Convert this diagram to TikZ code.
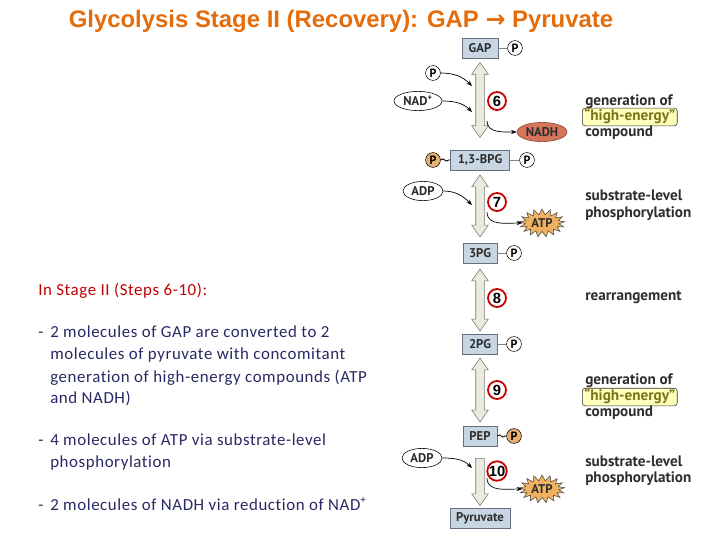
\documentclass[tikz,border=0pt]{standalone}
\usepackage{fontspec}
\setmainfont[LetterSpace=3.5, Ligatures=NoCommon]{Carlito}
\newfontfamily\headfont{Liberation Sans}
\newfontfamily\figfont{PT Sans}
\newfontfamily\arrowfont{DejaVu Sans}
\usepackage{xcolor}
\usepackage{tikz}
\usetikzlibrary{positioning,shapes.geometric,shapes.arrows,shapes.symbols,arrows.meta,decorations.pathmorphing}
\definecolor{titleorange}{RGB}{228,108,10}
\definecolor{headred}{RGB}{192,0,0}
\definecolor{bodyblue}{RGB}{40,40,100}
\definecolor{boxfill}{RGB}{200,214,228}
\definecolor{boxline}{RGB}{100,112,128}
\definecolor{shaftfill}{RGB}{236,234,222}
\definecolor{shaftline}{RGB}{120,120,120}
\definecolor{pfill}{RGB}{232,176,112}
\definecolor{nadhfill}{RGB}{214,116,92}
\definecolor{atpfill}{RGB}{240,178,96}
\definecolor{hifill}{RGB}{255,255,190}
\definecolor{hitext}{RGB}{120,118,20}
\definecolor{labgray}{RGB}{45,45,45}
\tikzset{
  mol/.style={draw=boxline, fill=boxfill, minimum height=0.5cm, inner sep=1pt, font=\figfont\bfseries\fontsize{9}{10}\selectfont, text=labgray},
  phos/.style={circle, draw, fill=white, minimum size=0.37cm, inner sep=0pt, font=\figfont\bfseries\fontsize{8.5}{9}\selectfont},
  phoshi/.style={phos, fill=pfill},
  link/.style={draw=gray, line width=0.6pt},
  squig/.style={draw=black, line width=0.6pt, decorate, decoration={snake, amplitude=0.8pt, segment length=5pt}},
  twoway/.style={double arrow, draw=shaftline, fill=shaftfill, rotate=90, inner xsep=0pt, inner ysep=0.1cm, double arrow head extend=0.1cm, double arrow tip angle=70},
  oneway/.style={single arrow, draw=shaftline, fill=shaftfill, rotate=-90, inner xsep=0pt, inner ysep=0.1cm, single arrow head extend=0.1cm, single arrow tip angle=70},
  stepnum/.style={circle, draw=red!80!black, line width=1.3pt, fill=white, minimum size=0.45cm, inner sep=0pt, font=\headfont\bfseries\fontsize{10.5}{10}\selectfont},
  cofac/.style={ellipse, draw, fill=white, inner sep=0.5pt, minimum height=0.48cm, font=\figfont\bfseries\fontsize{9}{10}\selectfont, text=labgray},
  nadh/.style={cofac, fill=nadhfill, draw=nadhfill!60!black},
  burst/.style={starburst, starburst points=17, starburst point height=4pt, random starburst=0, draw=black!70, fill=atpfill, inner sep=1pt, minimum width=1.05cm, minimum height=0.7cm, font=\figfont\bfseries\fontsize{9}{10}\selectfont, text=labgray},
  feed/.style={-{Stealth[length=4pt]}, line width=0.5pt},
  side/.style={anchor=west, inner sep=0pt, text height=7.5pt, text depth=2pt, font=\figfont\bfseries\fontsize{10.8}{12}\selectfont, text=labgray},
  hiyel/.style={side, draw=black!80, fill=hifill, rounded corners=2pt, text=hitext, inner sep=1.5pt},
  body/.style={anchor=base west, inner sep=0pt, text=bodyblue, font=\fontsize{12}{14}\selectfont}
}
\begin{document}
\begin{tikzpicture}[x=0.025cm, y=0.025cm]
\useasboundingbox (0,0) rectangle (720,-540);
\node[font=\headfont\bfseries\fontsize{17}{20}\selectfont, text=titleorange, anchor=base] (title) at (341,-27) {Glycolysis Stage II (Recovery): GAP {\arrowfont →} Pyruvate};

\node[body, text=headred] (head) at (38,-295) {In Stage II (Steps 6-10):};
\foreach \y [count=\i] in {337,445,510}
  \node[body] (dash\i) at (38,-\y) {-};
\foreach \y/\t [count=\i] in {337/2 molecules of GAP are converted to 2, 359/molecules of pyruvate with concomitant, 382/generation of high-energy compounds (ATP, 403/and NADH), 445/4 molecules of ATP via substrate-level, 467/phosphorylation, 510/2 molecules of NADH via reduction of NAD\textsuperscript{+}}
  \node[body] (line\i) at (50,-\y) {\t};

\node[mol, minimum width=0.9cm] (gap) at (480,-48) {GAP};
\node[phos] (gapP) at (515,-48) {P};
\draw[link] (gap) -- (gapP);
\node[twoway, minimum height=1.875cm] (r6) at (480,-100) {};
\node[stepnum] (s6) at (497,-101) {6};
\node[phos] (p6) at (433,-73) {P};
\node[cofac, minimum width=1.2cm] (nad) at (418,-101) {NAD\textsuperscript{+}};
\node[nadh, minimum width=1.25cm] (nadh) at (542,-132) {NADH};
\coordinate (p6in) at (472,-86);
\coordinate (nadin) at (472,-112);
\coordinate (nadhout) at (487,-121);
\draw[feed] (p6) to[out=0, in=135] (p6in);
\draw[feed] (nad) to[out=0, in=135] (nadin);
\draw[feed] (nadhout) to[out=-90, in=180] (nadh);

\node[mol, minimum width=1.48cm] (bpg) at (480,-160) {1,3-BPG};
\node[phoshi] (bpgPl) at (433,-160) {P};
\node[phos] (bpgPr) at (527,-160) {P};
\draw[squig] (bpgPl) -- (bpg);
\draw[link] (bpg) -- (bpgPr);
\node[twoway, minimum height=1.55cm] (r7) at (480,-206) {};
\node[stepnum] (s7) at (497,-202) {7};
\node[cofac, minimum width=1.0cm] (adp1) at (423,-191) {ADP};
\node[burst] (atp1) at (542,-223) {ATP};
\coordinate (adp1in) at (472,-205);
\coordinate (atp1out) at (487,-212);
\draw[feed] (adp1) to[out=0, in=135] (adp1in);
\draw[feed] (atp1out) to[out=-90, in=180] (atp1);

\node[mol, minimum width=0.85cm] (pg3) at (480,-253) {3PG};
\node[phos] (pg3P) at (514,-253) {P};
\draw[link] (pg3) -- (pg3P);
\node[twoway, minimum height=1.55cm] (r8) at (480,-300) {};
\node[stepnum] (s8) at (497,-298) {8};

\node[mol, minimum width=0.875cm] (pg2) at (480,-344) {2PG};
\node[phos] (pg2P) at (514,-344) {P};
\draw[link] (pg2) -- (pg2P);
\node[twoway, minimum height=1.6cm] (r9) at (480,-390) {};
\node[stepnum] (s9) at (497,-390) {9};

\node[mol, minimum width=0.85cm] (pep) at (480,-436) {PEP};
\node[phoshi] (pepP) at (514,-436) {P};
\draw[squig] (pep) -- (pepP);
\node[oneway, minimum height=1.18cm] (r10) at (480,-479) {};
\node[stepnum] (s10) at (497,-471) {10};
\node[cofac, minimum width=1.0cm] (adp2) at (422,-458) {ADP};
\node[burst] (atp2) at (542,-489) {ATP};
\coordinate (adp2in) at (472,-468);
\coordinate (atp2out) at (487,-478);
\draw[feed] (adp2) to[out=0, in=135] (adp2in);
\draw[feed] (atp2out) to[out=-90, in=180] (atp2);
\node[mol, minimum width=1.5cm] (pyr) at (480,-518) {Pyruvate};

\node[side] (gen1) at (585,-102) {generation of};
\node[hiyel] (hi1) at (582,-117) {“high-energy”};
\node[side] (comp1) at (585,-133) {compound};
\node[side] (sub1) at (585,-197) {substrate-level};
\node[side] (phos1) at (585,-214) {phosphorylation};
\node[side] (rearr) at (585,-297) {rearrangement};
\node[side] (gen2) at (585,-381) {generation of};
\node[hiyel] (hi2) at (582,-397) {“high-energy”};
\node[side] (comp2) at (585,-413) {compound};
\node[side] (sub2) at (585,-463) {substrate-level};
\node[side] (phos2) at (585,-479) {phosphorylation};
\end{tikzpicture}
\end{document}
